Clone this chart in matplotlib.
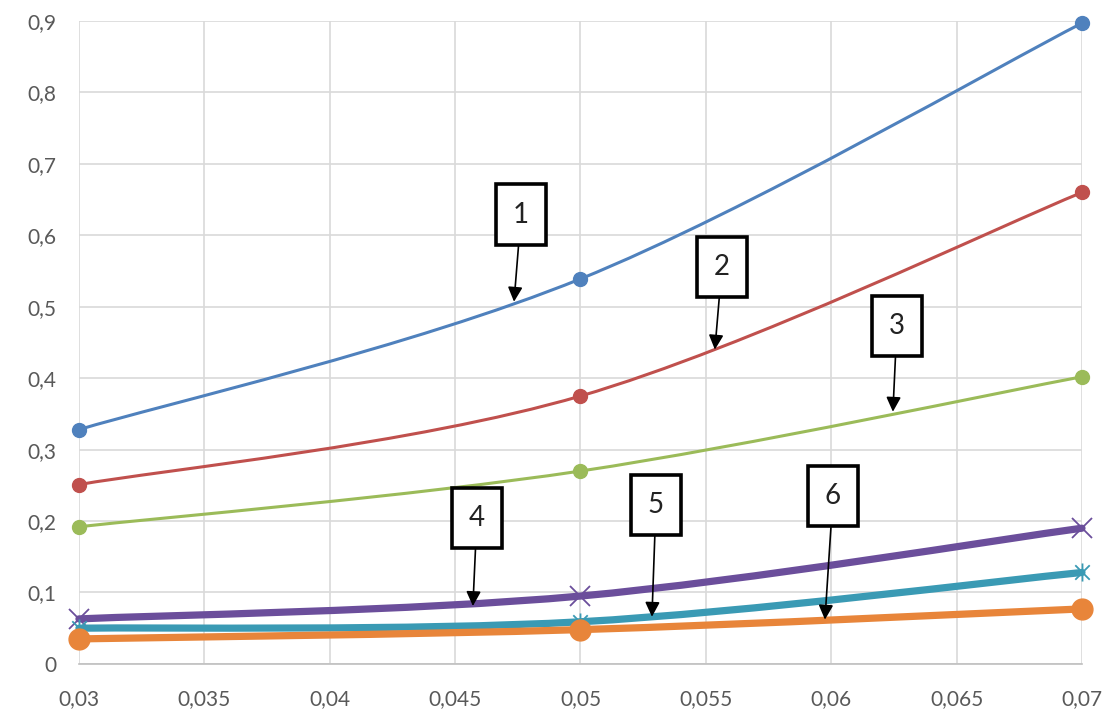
import matplotlib
matplotlib.use("Agg")
import matplotlib.pyplot as plt
from matplotlib.path import Path
from matplotlib.patches import PathPatch
from matplotlib.ticker import FixedLocator, FuncFormatter

# ---------------- Data ----------------
x_vals = [0.03, 0.05, 0.07]

curve1 = [0.328, 0.539, 0.897]
curve2 = [0.251, 0.375, 0.660]
curve3 = [0.192, 0.270, 0.402]
curve4 = [0.063, 0.095, 0.190]
curve5 = [0.050, 0.059, 0.128]
curve6 = [0.035, 0.048, 0.077]

x_ticks = [0.03, 0.035, 0.04, 0.045, 0.05, 0.055, 0.06, 0.065, 0.07]
y_ticks = [0, 0.1, 0.2, 0.3, 0.4, 0.5, 0.6, 0.7, 0.8, 0.9]

labels = ["1", "2", "3", "4", "5", "6"]
label_box = [(0.04763, 0.629), (0.05564, 0.556), (0.06262, 0.473),
             (0.04587, 0.2045), (0.05301, 0.2227), (0.06007, 0.235)]
label_tip = [(0.04735, 0.507), (0.05536, 0.440), (0.06246, 0.353),
             (0.04571, 0.081), (0.05285, 0.066), (0.05975, 0.062)]

# asterisk marker: x with a vertical bar
star_marker = Path([(-1, -1), (1, 1), (-1, 1), (1, -1), (0, -1.25), (0, 1.25)],
                   [Path.MOVETO, Path.LINETO, Path.MOVETO, Path.LINETO,
                    Path.MOVETO, Path.LINETO])


# ---------------- Helpers ----------------
def smooth_path(xs, ys):
    """Bezier path through the points, spreadsheet-style smoothing."""
    pts = list(zip(xs, ys))
    verts = [pts[0]]
    codes = [Path.MOVETO]
    n = len(pts)
    for i in range(n - 1):
        p0 = pts[max(i - 1, 0)]
        p1 = pts[i]
        p2 = pts[i + 1]
        p3 = pts[min(i + 2, n - 1)]
        c1 = (p1[0] + (p2[0] - p0[0]) / 6, p1[1] + (p2[1] - p0[1]) / 6)
        c2 = (p2[0] - (p3[0] - p1[0]) / 6, p2[1] - (p3[1] - p1[1]) / 6)
        verts += [c1, c2, p2]
        codes += [Path.CURVE4] * 3
    return Path(verts, codes)


def draw_series(ax, ys, color, lw, marker, ms, mew, filled=True, z=3):
    patch = PathPatch(smooth_path(x_vals, ys), facecolor="none",
                      edgecolor=color, lw=lw, capstyle="round",
                      joinstyle="round", zorder=z, clip_on=False)
    ax.add_patch(patch)
    ax.plot(x_vals, ys, linestyle="none", marker=marker, markersize=ms,
            markerfacecolor=color if filled else "none",
            markeredgecolor=color, markeredgewidth=mew, zorder=z + 0.5,
            clip_on=False)


# ---------------- Plot ----------------
plt.rcParams["font.family"] = ["Lato", "DejaVu Sans"]

fig = plt.figure(figsize=(11.12, 7.24), dpi=100)
ax = fig.add_axes([0.071, 0.083, 0.902, 0.888])

ax.set_xlim(0.03, 0.07)
ax.set_ylim(0, 0.9)

draw_series(ax, curve1, "#4F81BD", 2.2, "o", 10, 1)
draw_series(ax, curve2, "#C0504D", 2.2, "o", 10, 1)
draw_series(ax, curve3, "#9BBB59", 2.2, "o", 10, 1)
draw_series(ax, curve4, "#6B4E9B", 5.2, "x", 15, 1.3, z=4)
draw_series(ax, curve5, "#3A9AB4", 5.2, star_marker, 13, 1.3, z=5)
draw_series(ax, curve6, "#E8853A", 5.2, "o", 15, 1, z=6)

ax.xaxis.set_major_locator(FixedLocator(x_ticks))
ax.yaxis.set_major_locator(FixedLocator(y_ticks))


def comma_fmt(v, pos):
    if abs(v) < 1e-12:
        return "0"
    return ("%g" % v).replace(".", ",")


ax.xaxis.set_major_formatter(FuncFormatter(comma_fmt))
ax.yaxis.set_major_formatter(FuncFormatter(comma_fmt))

ax.grid(True, color="#D9D9D9", lw=1.2, zorder=0)
ax.set_axisbelow(True)
for side in ["top", "right", "left"]:
    ax.spines[side].set_visible(False)
ax.spines["bottom"].set_color("#BFBFBF")
ax.spines["bottom"].set_linewidth(1.2)
ax.tick_params(axis="both", length=0, labelsize=15, labelcolor="#595959")
ax.tick_params(axis="x", pad=18)
ax.tick_params(axis="y", pad=16)

# numbered callouts
for lab, box, tip in zip(labels, label_box, label_tip):
    ax.annotate(lab, xy=tip, xytext=box, ha="center", va="center",
                fontsize=20, color="#222222", zorder=10,
                bbox=dict(boxstyle="square,pad=0.62", fc="white",
                          ec="black", lw=2.6),
                arrowprops=dict(arrowstyle="-|>", color="black", lw=1.2,
                                mutation_scale=22, shrinkA=0, shrinkB=0))

fig.savefig("out.png", dpi=100)
